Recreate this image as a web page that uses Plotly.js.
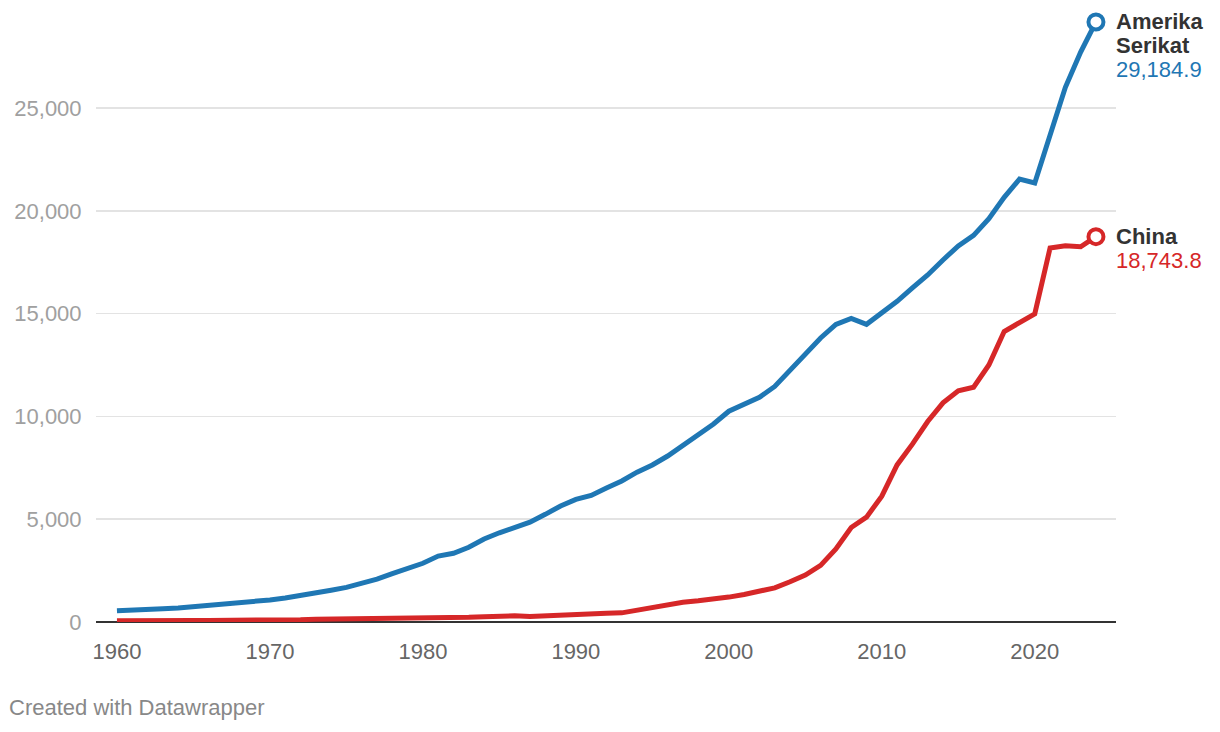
<!DOCTYPE html>
<html>
<head>
<meta charset="utf-8">
<script src="https://cdn.plot.ly/plotly-3.0.1.min.js"></script>
<style>
html,body{margin:0;padding:0;background:#fff;}
#chart{width:1220px;height:732px;}
</style>
</head>
<body>
<div id="chart"></div>
<script>
const years = [];
for (let y = 1960; y <= 2024; y++) years.push(y);

const usLabel = "Amerika Serikat";
const chinaLabel = "China";

const usGdp = [543.3, 563.3, 605.1, 638.6, 685.8, 743.7, 815.0, 861.7, 942.5, 1019.9,
  1073.3, 1164.9, 1279.1, 1425.4, 1545.2, 1684.9, 1873.4, 2081.8, 2351.6, 2627.3,
  2857.3, 3207.0, 3343.8, 3634.0, 4037.6, 4339.0, 4579.6, 4855.2, 5236.4, 5641.6,
  5963.1, 6158.1, 6520.3, 6858.6, 7287.2, 7639.7, 8073.1, 8577.6, 9062.8, 9631.2,
  10251.0, 10581.9, 10929.1, 11456.4, 12217.2, 13039.2, 13815.6, 14474.2, 14769.9, 14478.1,
  15049.0, 15599.7, 16254.0, 16880.7, 17608.1, 18295.0, 18804.9, 19612.1, 20656.5, 21540.0,
  21354.1, 23681.2, 26006.9, 27720.7, 29184.9];

const chinaGdp = [59.7, 50.1, 47.2, 50.7, 59.7, 70.4, 76.7, 72.9, 70.8, 79.7,
  92.6, 99.8, 113.7, 138.5, 144.2, 163.4, 153.9, 174.9, 149.5, 178.3,
  191.1, 195.9, 205.1, 230.7, 259.9, 309.5, 300.8, 273.0, 312.4, 347.8,
  360.9, 383.4, 426.9, 444.7, 564.3, 734.5, 863.7, 961.6, 1029.0, 1094.0,
  1211.3, 1339.4, 1470.6, 1660.3, 1955.3, 2286.0, 2752.1, 3550.3, 4594.3, 5101.7,
  6120.0, 7640.0, 8650.0, 9750.0, 10660.0, 11250.0, 11420.0, 12500.0, 14130.0, 14530.0,
  14990.0, 18190.0, 18300.0, 18250.0, 18743.8];

const yTicks = [0, 5000, 10000, 15000, 20000, 25000];
const yTickText = ["0", "5,000", "10,000", "15,000", "20,000", "25,000"];
const xTicks = [1960, 1970, 1980, 1990, 2000, 2010, 2020];
const xTickText = ["1960", "1970", "1980", "1990", "2000", "2010", "2020"];

const usColor = "#1f77b4";
const chinaColor = "#d62728";
const FONT = "Liberation Sans, Arial, Helvetica, sans-serif";

function fmt(v){ return v.toLocaleString("en-US",{minimumFractionDigits:1, maximumFractionDigits:1}); }

const lastYear = years[years.length-1];
const usLast = usGdp[usGdp.length-1];
const cnLast = chinaGdp[chinaGdp.length-1];

const traces = [
  {x: years, y: chinaGdp, type: "scatter", mode: "lines", line: {color: chinaColor, width: 5}, cliponaxis: false, hoverinfo: "skip"},
  {x: years, y: usGdp, type: "scatter", mode: "lines", line: {color: usColor, width: 5}, cliponaxis: false, hoverinfo: "skip"},
  {x: [lastYear], y: [cnLast], type: "scatter", mode: "markers", cliponaxis: false,
   marker: {symbol: "circle", size: 15, color: "#fff", line: {color: chinaColor, width: 4}}, hoverinfo: "skip"},
  {x: [lastYear], y: [usLast], type: "scatter", mode: "markers", cliponaxis: false,
   marker: {symbol: "circle", size: 15, color: "#fff", line: {color: usColor, width: 4}}, hoverinfo: "skip"}
];

const labelFont = {family: FONT, size: 22, color: "#333333", weight: "bold"};
const usWords = usLabel.split(" ");
const annotations = [
  {x: lastYear, y: usLast, xref: "x", yref: "y", text: usWords[0], showarrow: false, xanchor: "left", yanchor: "middle", xshift: 18, yshift: 0, font: labelFont},
  {x: lastYear, y: usLast, xref: "x", yref: "y", text: usWords[1], showarrow: false, xanchor: "left", yanchor: "middle", xshift: 18, yshift: -24, font: labelFont},
  {x: lastYear, y: usLast, xref: "x", yref: "y", text: fmt(usLast), showarrow: false, xanchor: "left", yanchor: "middle", xshift: 18, yshift: -48, font: {family: FONT, size: 22, color: usColor}},
  {x: lastYear, y: cnLast, xref: "x", yref: "y", text: chinaLabel, showarrow: false, xanchor: "left", yanchor: "middle", xshift: 18, yshift: 0, font: labelFont},
  {x: lastYear, y: cnLast, xref: "x", yref: "y", text: fmt(cnLast), showarrow: false, xanchor: "left", yanchor: "middle", xshift: 18, yshift: -24, font: {family: FONT, size: 22, color: chinaColor}},
  {x: -0.0873, y: -0.1405, xref: "paper", yref: "paper", text: "Created with Datawrapper", showarrow: false, xanchor: "left", yanchor: "middle", font: {family: FONT, size: 22, color: "#888888"}}
];

const layout = {
  width: 1220, height: 732,
  margin: {l: 96, r: 104, t: 10, b: 110, pad: 0},
  paper_bgcolor: "#fff", plot_bgcolor: "#fff",
  showlegend: false,
  font: {family: FONT},
  xaxis: {
    range: [1958.63, 2025.31], tickvals: xTicks, ticktext: xTickText,
    showgrid: false, zeroline: false, showline: false,
    ticks: "outside", ticklen: 10, tickcolor: "rgba(0,0,0,0)",
    tickfont: {family: FONT, size: 22, color: "#666666"}, fixedrange: true
  },
  yaxis: {
    range: [0, 29767], tickvals: yTicks, ticktext: yTickText,
    showgrid: true, gridcolor: "#e3e3e3", gridwidth: 1.5,
    zeroline: true, zerolinecolor: "#333333", zerolinewidth: 2,
    showline: false, ticks: "outside", ticklen: 9, tickcolor: "rgba(0,0,0,0)",
    tickfont: {family: FONT, size: 22, color: "#a0a0a0"}, fixedrange: true
  },
  annotations: annotations
};

Plotly.newPlot("chart", traces, layout, {displayModeBar: false, staticPlot: true});
</script>
</body>
</html>
